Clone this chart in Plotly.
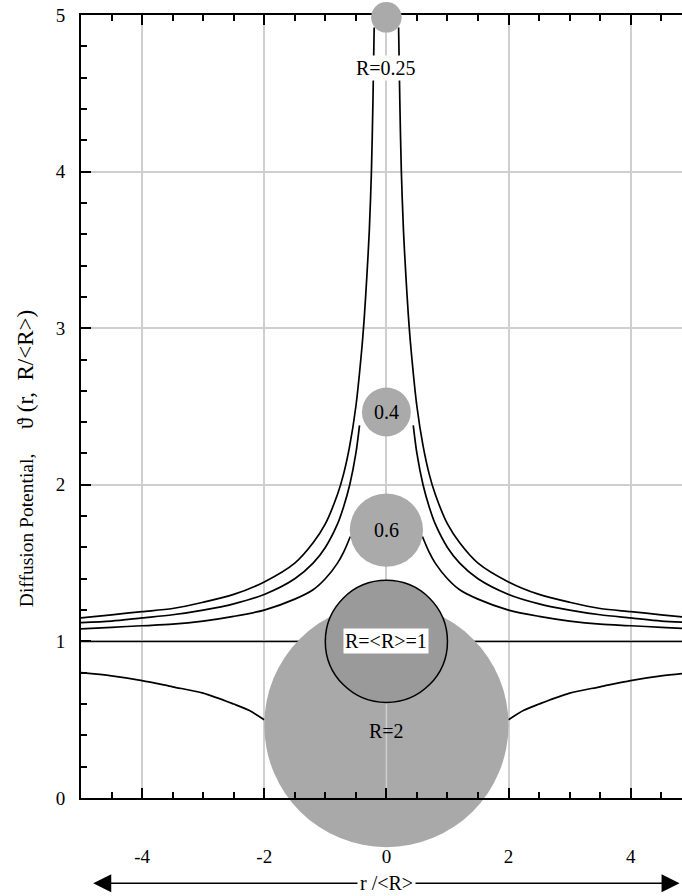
import numpy as np
import plotly.graph_objects as go

# ---------------- data ----------------
# particles: radius R (units of <R>) and height of the drawn centre
circle_R = [2.0, 1.0, 0.25, 0.4, 0.6]
circle_y = [0.466, 1.0, 4.985, 2.465, 1.71]
circle_labels = ["R=2", "R=&lt;R&gt;=1", "R=0.25", "0.4", "0.6"]
label_y = [0.43, 1.0, 4.66, 2.465, 1.71]

# diffusion potential vs distance r/<R> (mirrored about r = 0)
r_025 = [0.2, 0.22, 0.245, 0.28, 0.32, 0.36, 0.4, 0.5, 0.6, 0.7, 0.8, 1.0,
         1.2, 1.5, 2.0, 2.5, 3.0, 3.5, 4.0, 4.5, 5.0]
th_025 = [4.92, 4.45, 4.0, 3.62, 3.33, 3.08, 2.88, 2.5, 2.25, 2.07, 1.94, 1.75,
          1.63, 1.5, 1.38, 1.3, 1.25, 1.21, 1.19, 1.17, 1.15]
r_04 = [0.44, 0.5, 0.6, 0.7, 0.8, 1.0, 1.2, 1.5, 2.0, 2.5, 3.0, 3.5, 4.0, 4.5, 5.0]
th_04 = [2.38, 2.2, 2.0, 1.86, 1.75, 1.6, 1.5, 1.4, 1.3, 1.24, 1.2, 1.17, 1.15, 1.13, 1.12]
r_06 = [0.59, 0.7, 0.8, 1.0, 1.2, 1.5, 2.0, 2.5, 3.0, 3.5, 4.0, 4.5, 5.0]
th_06 = [1.67, 1.57, 1.5, 1.4, 1.33, 1.27, 1.2, 1.16, 1.13, 1.11, 1.10, 1.09, 1.08]
r_2 = [2.0, 2.25, 2.5, 3.0, 3.5, 4.0, 4.5, 5.0]
th_2 = [0.5, 0.56, 0.6, 0.67, 0.71, 0.75, 0.78, 0.8]
mean_level_x = [-5.0, 5.0]
mean_level_y = [1.0, 1.0]

x_ticks = [-4, -2, 0, 2, 4]

# ---------------- layout constants ----------------
W, H = 682, 896
ML, MR, MT, MB = 81, 0, 15, 98
X_RANGE = [-5.0, 4.84]
Y_RANGE = [0.0, 5.0]
PX_PER_X = (W - ML - MR) / (X_RANGE[1] - X_RANGE[0])

FONT = "Liberation Serif"
GRID = "#cfcfcf"
circle_fill = ["#a9a9a9", "#9a9a9a", "#aaaaaa", "#aaaaaa", "#aaaaaa"]

fig = go.Figure()


def mirrored(r, th):
    r = np.asarray(r, float)
    th = np.asarray(th, float)
    x = np.concatenate([-r[::-1], [np.nan], r])
    y = np.concatenate([th[::-1], [np.nan], th])
    return x, y


for r, th in [(r_025, th_025), (r_04, th_04), (r_06, th_06), (r_2, th_2)]:
    x, y = mirrored(r, th)
    fig.add_trace(go.Scatter(x=x, y=y, mode="lines", connectgaps=False,
                             line=dict(color="black", width=1.7, shape="spline", smoothing=0.8),
                             showlegend=False, hoverinfo="skip"))

fig.add_trace(go.Scatter(x=mean_level_x, y=mean_level_y, mode="lines",
                         line=dict(color="black", width=1.5),
                         showlegend=False, hoverinfo="skip"))


def circle(i, outline=False):
    fig.add_trace(go.Scatter(
        x=[0], y=[circle_y[i]], mode="markers", cliponaxis=False,
        marker=dict(size=2 * circle_R[i] * PX_PER_X, color=circle_fill[i],
                    line=dict(color="black" if outline else circle_fill[i],
                              width=1.5 if outline else 0)),
        showlegend=False, hoverinfo="skip"))


circle(0)
# the x = 0 grid line shows through the big particle
fig.add_trace(go.Scatter(x=[0, 0], y=[0, circle_y[1]], mode="lines",
                         line=dict(color=GRID, width=1.5),
                         showlegend=False, hoverinfo="skip"))
circle(1, outline=True)
circle(2)
circle(3)
circle(4)

# dummy trace so the top axis is drawn
fig.add_trace(go.Scatter(x=[0], y=[0], xaxis="x2", mode="markers",
                         marker=dict(opacity=0), showlegend=False, hoverinfo="skip"))

# particle labels
for i, txt in enumerate(circle_labels):
    boxed = i in (1, 2)
    fig.add_annotation(x=0, y=label_y[i], xref="x", yref="y", text=txt,
                       showarrow=False, font=dict(family=FONT, size=20, color="black"),
                       bgcolor="white" if boxed else "rgba(0,0,0,0)", borderpad=1)

# double arrow for r/<R>
ARROW_Y = -0.109
for xe, off in ((-4.8, 293), (4.8, -293)):
    fig.add_annotation(x=xe, y=ARROW_Y, xref="x", yref="paper", text="",
                       showarrow=True, ax=off, ay=0, axref="pixel", ayref="pixel",
                       arrowhead=2, arrowsize=2.4, arrowwidth=1.5, arrowcolor="black")
fig.add_annotation(x=0, y=ARROW_Y, xref="x", yref="paper", text="r /&lt;R&gt;",
                   showarrow=False, bgcolor="white", borderpad=2,
                   xanchor="center", yanchor="middle",
                   font=dict(family=FONT, size=20, color="black"))

# y axis title
fig.add_annotation(x=-0.0932, y=2.17, xref="paper", yref="y",
                   xanchor="center", yanchor="middle",
                   text=("Diffusion Potential,\u00a0\u00a0\u00a0\u00a0\u00a0"
                         "<span style='font-size:23px'>\u03d1\u00a0(r,\u00a0\u00a0R/&lt;R&gt;)</span>"),
                   textangle=-90, showarrow=False,
                   font=dict(family=FONT, size=19.5, color="black"))

axis_common = dict(showline=True, linecolor="black", linewidth=2,
                   ticks="inside", ticklen=10, tickwidth=2, tickcolor="black",
                   zeroline=False)

fig.update_layout(
    width=W, height=H,
    margin=dict(l=ML, r=MR, t=MT, b=MB, autoexpand=False),
    paper_bgcolor="white", plot_bgcolor="white",
    showlegend=False,
    font=dict(family=FONT, size=19, color="black"),
    xaxis=dict(range=X_RANGE, tickmode="array", tickvals=x_ticks,
               ticktext=[str(v) for v in x_ticks],
               showgrid=True, gridcolor=GRID, gridwidth=1.5,
               minor=dict(dtick=0.5, tick0=0, ticks="inside", ticklen=6,
                          tickwidth=2, tickcolor="black", showgrid=False),
               layer="above traces", ticklabelstandoff=40,
               tickfont=dict(family=FONT, size=19), **axis_common),
    xaxis2=dict(range=X_RANGE, overlaying="x", side="top", anchor="y",
                tickmode="array", tickvals=x_ticks, showticklabels=False,
                showgrid=False,
                minor=dict(dtick=0.5, tick0=0, ticks="inside", ticklen=6,
                           tickwidth=2, tickcolor="black", showgrid=False),
                layer="below traces", **axis_common),
    yaxis=dict(range=Y_RANGE, dtick=1, tick0=0,
               showgrid=True, gridcolor=GRID, gridwidth=1.5,
               minor=dict(dtick=0.2, tick0=0, ticks="inside", ticklen=6,
                          tickwidth=2, tickcolor="black", showgrid=False),
               ticklabelstandoff=10,
               tickfont=dict(family=FONT, size=19), **axis_common),
)

fig.write_html("out.html",
               config={"displayModeBar": False},
               post_script="document.body.style.margin='0';"
                           "document.body.style.overflow='hidden';")
